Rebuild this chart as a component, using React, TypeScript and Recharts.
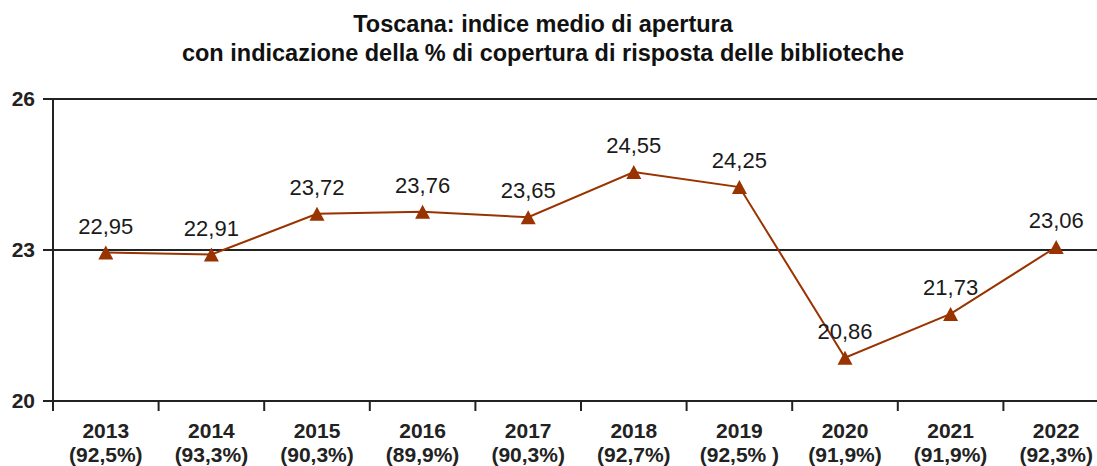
import React from "react";
import { LineChart, Line, XAxis, YAxis, CartesianGrid, LabelList } from "recharts";

const years = ["2013", "2014", "2015", "2016", "2017", "2018", "2019", "2020", "2021", "2022"];
const coverage = ["(92,5%)", "(93,3%)", "(90,3%)", "(89,9%)", "(90,3%)", "(92,7%)", "(92,5% )", "(91,9%)", "(91,9%)", "(92,3%)"];
const indice = [22.95, 22.91, 23.72, 23.76, 23.65, 24.55, 24.25, 20.86, 21.73, 23.06];
const yTicks = [20, 23, 26];

const data = years.map((year, i) => ({ year, coverage: coverage[i], value: indice[i] }));

const FONT = "'Liberation Sans', Arial, sans-serif";
const BROWN = "#993300";
const AXIS = "#222222";

// band width of one category (plot width / number of categories)
const STEP = 105.6;

const YearTick = ({ x, y, payload, index }: any) => {
  const half = STEP / 2;
  const item = data[index];
  return (
    <g>
      <line x1={x - half} x2={x - half} y1={401} y2={411} stroke={AXIS} strokeWidth={2} />
      {index === data.length - 1 && (
        <line x1={x + half} x2={x + half} y1={401} y2={411} stroke={AXIS} strokeWidth={2} />
      )}
      <text x={x} y={y} textAnchor="middle" fontFamily={FONT} fontWeight="bold" fontSize={21} fill={AXIS}>
        <tspan x={x} dy={29}>{payload.value}</tspan>
        <tspan x={x} dy={24}>{item ? item.coverage : ""}</tspan>
      </text>
    </g>
  );
};

const Triangle = ({ cx, cy }: any) => {
  if (cx == null || cy == null) return null;
  return <polygon points={`${cx},${cy - 7} ${cx + 7.5},${cy + 7} ${cx - 7.5},${cy + 7}`} fill={BROWN} />;
};

export default function App() {
  return (
    <div
      style={{
        position: "fixed",
        top: 0,
        left: 0,
        width: 1097,
        height: 466,
        overflow: "hidden",
        background: "#fff",
      }}
    >
      <div
        style={{
          position: "absolute",
          top: 10,
          left: 0,
          width: 1086,
          textAlign: "center",
          fontFamily: FONT,
          fontWeight: "bold",
          fontSize: 23.5,
          lineHeight: "29px",
          color: "#111",
        }}
      >
        Toscana: indice medio di apertura
        <br />
        con indicazione della % di copertura di risposta delle biblioteche
      </div>
      <LineChart
        width={1109}
        height={466}
        data={data}
        margin={{ top: 99, right: 0, left: 0, bottom: 5 }}
      >
        <CartesianGrid vertical={false} stroke={AXIS} strokeWidth={2} strokeOpacity={1} />
        <XAxis
          dataKey="year"
          height={60}
          padding={{ left: STEP / 2, right: STEP / 2 }}
          axisLine={{ stroke: AXIS, strokeWidth: 2 }}
          tickLine={false}
          tick={<YearTick />}
          interval={0}
        />
        <YAxis
          width={53}
          domain={[20, 26]}
          ticks={yTicks}
          axisLine={{ stroke: AXIS, strokeWidth: 2 }}
          tickLine={{ stroke: AXIS, strokeWidth: 2 }}
          tickSize={10}
          tickMargin={8}
          tick={{ fontFamily: FONT, fontWeight: "bold", fontSize: 21, fill: AXIS }}
        />
        <Line
          dataKey="value"
          stroke={BROWN}
          strokeWidth={2}
          dot={<Triangle />}
          activeDot={false}
          isAnimationActive={false}
        >
          <LabelList
            dataKey="value"
            position="top"
            offset={19}
            fontFamily={FONT}
            fontSize={22}
            fill="#1a1a1a"
            formatter={(v: any) => Number(v).toFixed(2).replace(".", ",")}
          />
        </Line>
      </LineChart>
    </div>
  );
}
